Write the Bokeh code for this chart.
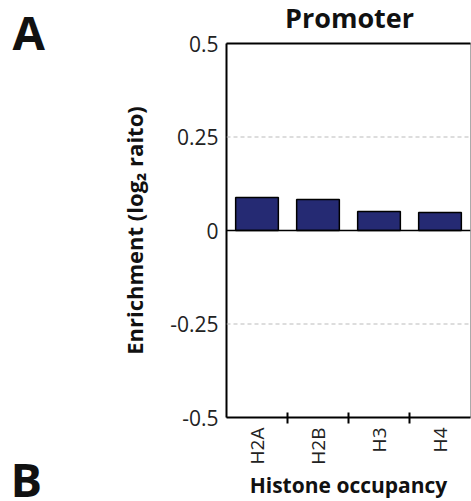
import math
from bokeh.plotting import figure
from bokeh.models import (Range1d, FixedTicker, LinearAxis, Span, Label)
from bokeh.embed import file_html
from bokeh.resources import INLINE

# ---- data ----
histones = ["H2A", "H2B", "H3", "H4"]
enrichment = [0.088, 0.083, 0.051, 0.048]
y_ticks = [-0.5, -0.25, 0, 0.25, 0.5]
y_tick_labels = ["-0.5", "-0.25", "0", "0.25", "0.5"]
title_text = "Promoter"
y_label = "Enrichment (log\u2082 raito)"
x_label = "Histone occupancy"

FONT = "Open Sans"
BAR_COLOR = "#252a73"

centers = [i + 0.5 for i in range(len(histones))]
boundaries = [float(i) for i in range(1, len(histones))]

p = figure(width=471, height=501, output_backend="svg", toolbar_location=None,
           x_range=Range1d(0, len(histones)), y_range=Range1d(y_ticks[0], y_ticks[-1]),
           x_axis_type=None, y_axis_type=None,
           min_border_left=226, min_border_right=1, min_border_top=43, min_border_bottom=84)
p.background_fill_color = "white"
p.border_fill_color = "white"
p.outline_line_color = "#aaaaaa"
p.outline_line_width = 1
p.title.visible = False

# y axis
yax = LinearAxis(ticker=FixedTicker(ticks=y_ticks, minor_ticks=[]))
yax.major_label_overrides = {t: l for t, l in zip(y_ticks, y_tick_labels)}
yax.major_tick_in = 0
yax.major_tick_out = 0
yax.minor_tick_in = 0
yax.minor_tick_out = 0
yax.axis_line_color = "black"
yax.axis_line_width = 2
yax.major_label_text_font = FONT
yax.major_label_text_font_size = "21px"
yax.major_label_text_color = "#222222"
yax.major_label_standoff = 8
yax.axis_label = y_label
yax.axis_label_text_font = FONT
yax.axis_label_text_font_size = "22px"
yax.axis_label_text_font_style = "bold"
yax.axis_label_text_color = "#111111"
yax.axis_label_standoff = 18
p.add_layout(yax, "left")

# x axis
xax = LinearAxis(ticker=FixedTicker(ticks=centers, minor_ticks=boundaries))
xax.major_label_overrides = {c: h for c, h in zip(centers, histones)}
xax.major_label_orientation = math.pi / 2
xax.major_tick_in = 0
xax.major_tick_out = 0
xax.minor_tick_in = 5
xax.minor_tick_out = 6
xax.minor_tick_line_color = "black"
xax.minor_tick_line_width = 2
xax.axis_line_color = "black"
xax.axis_line_width = 2
xax.major_label_text_font = FONT
xax.major_label_text_font_size = "19px"
xax.major_label_text_color = "#222222"
xax.major_label_standoff = 4
xax.axis_label = x_label
xax.axis_label_text_font = FONT
xax.axis_label_text_font_size = "21px"
xax.axis_label_text_font_style = "bold"
xax.axis_label_text_color = "#111111"
xax.axis_label_standoff = 3
p.add_layout(xax, "below")

# top border
top = LinearAxis(ticker=FixedTicker(ticks=[]))
top.axis_line_color = "black"
top.axis_line_width = 2
top.major_tick_in = 0
top.major_tick_out = 0
top.minor_tick_in = 0
top.minor_tick_out = 0
top.major_label_text_font_size = "0px"
top.major_label_standoff = 0
p.add_layout(top, "above")

# title as a label in the top panel
p.add_layout(Label(x=349, y=17, x_units="canvas", y_units="canvas", text=title_text,
                   text_font=FONT, text_font_size="27px", text_font_style="bold",
                   text_color="#111111", text_align="center",
                   text_baseline="alphabetic"), "above")

# grid lines at +/-0.25
p.xgrid.visible = False
p.ygrid.visible = False
for t in y_ticks:
    if t not in (y_ticks[0], y_ticks[-1], 0):
        p.add_layout(Span(location=t, dimension="width", line_color="#bbbbbb",
                          line_width=1, line_dash="4 3"))

p.vbar(x=centers, top=enrichment, bottom=0, width=0.7,
       fill_color=BAR_COLOR, line_color="black", line_width=1.5)

p.add_layout(Span(location=0, dimension="width", line_color="black", line_width=1.5))

# panel letters (canvas units, placed in the left side panel so they are not clipped)
p.add_layout(Label(x=12, y=31, x_units="canvas", y_units="canvas", text="A",
                   text_font=FONT, text_font_size="47px", text_font_style="bold",
                   text_color="#111111", text_baseline="alphabetic"), "left")
p.add_layout(Label(x=10, y=478, x_units="canvas", y_units="canvas", text="B",
                   text_font=FONT, text_font_size="47px", text_font_style="bold",
                   text_color="#111111", text_baseline="alphabetic"), "left")

open("out.html", "w").write(file_html(p, INLINE))
